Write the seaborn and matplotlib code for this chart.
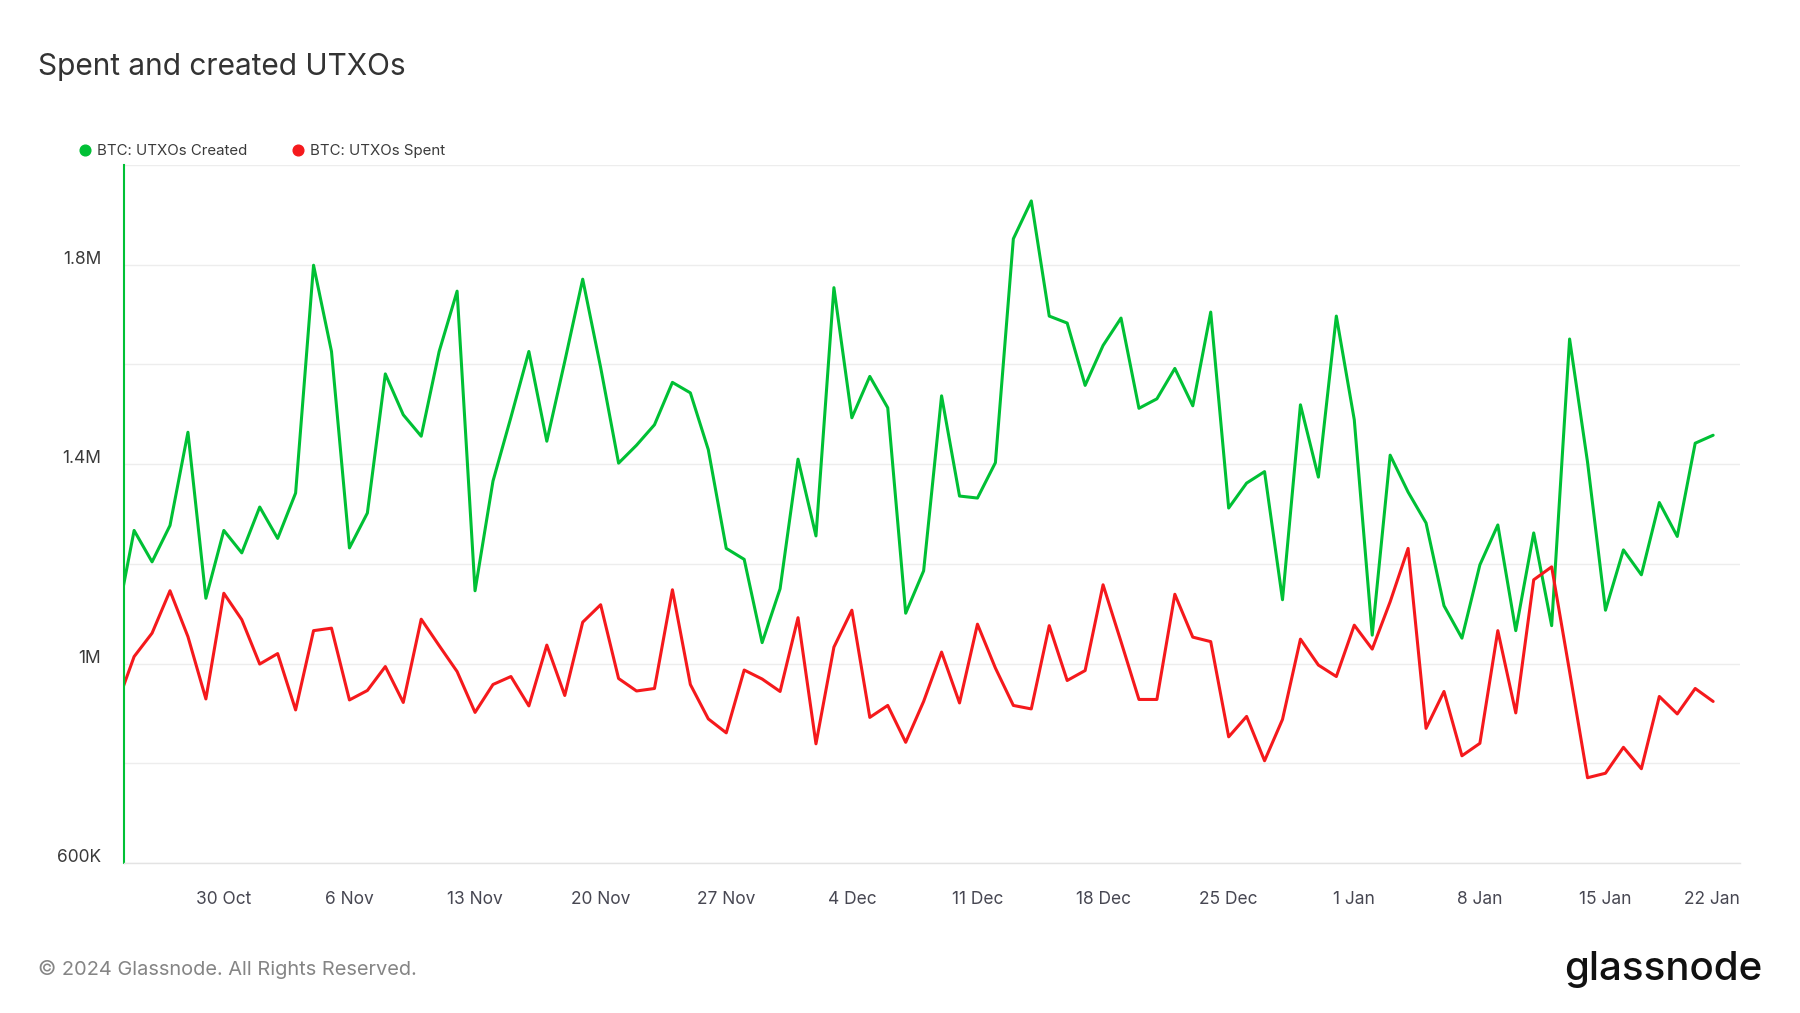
import pandas as pd
import numpy as np
import matplotlib
matplotlib.use("Agg")
import matplotlib.pyplot as plt
import matplotlib.dates as mdates
import matplotlib.transforms as mtransforms
from matplotlib.lines import Line2D
import seaborn as sns

# Daily values (thousands), 24 Oct 2023 .. 21 Jan 2024
dates = pd.date_range("2023-10-24", "2024-01-21", freq="D")

created_k = [
    1080, 1267, 1204, 1277, 1464, 1131, 1267, 1222,
    1314, 1251, 1342, 1799, 1626, 1232, 1302, 1581, 1499, 1456,
    1626, 1747, 1146, 1366, 1494, 1626, 1446, 1606, 1771, 1594,
    1402, 1438, 1479, 1564, 1543, 1429, 1231, 1209, 1042, 1150,
    1410, 1256, 1754, 1493, 1576, 1513, 1101, 1186, 1537, 1336,
    1332, 1403, 1852, 1928, 1697, 1683, 1558, 1638, 1693, 1512,
    1531, 1592, 1517, 1705, 1312, 1362, 1385, 1128, 1519, 1374,
    1697,
    1489, 1057, 1418, 1344, 1282, 1116, 1051, 1198, 1278, 1066,
    1262, 1076, 1651, 1404, 1107, 1228, 1178, 1323, 1255, 1442,
    1458,
]

spent_k = [
    914, 1014, 1061, 1146, 1054, 929, 1141, 1088,
    999, 1020, 907, 1066, 1071, 927, 946, 994, 922, 1089,
    1036, 984, 902, 958, 974, 915, 1037, 936, 1083, 1118,
    970, 945, 950, 1148, 958, 889, 861, 987, 969, 944,
    1092, 839, 1033, 1107, 892, 916, 842, 924, 1023, 921,
    1079, 991, 916, 909, 1076, 966, 986, 1158, 1044, 928,
    928, 1139, 1053, 1044, 853, 894, 805, 888, 1049, 997,
    974,
    1077, 1029, 1124, 1231, 870, 944, 815, 840, 1066, 901,
    1168, 1194, 984, 771, 780, 832, 789, 934, 899, 950,
    924,
]

series_names = ["BTC: UTXOs Created", "BTC: UTXOs Spent"]
green = "#00c035"
red = "#f5191c"

df = pd.concat([
    pd.DataFrame({"date": dates, "value": np.array(created_k) * 1000, "series": series_names[0]}),
    pd.DataFrame({"date": dates, "value": np.array(spent_k) * 1000, "series": series_names[1]}),
])

sns.set_style("white")
plt.rcParams["font.family"] = ["Inter", "DejaVu Sans"]

fig = plt.figure(figsize=(18, 10.13), dpi=100)
ax = fig.add_axes([0.0689, 0.1481, 0.8978, 0.6890])

sns.lineplot(data=df, x="date", y="value", hue="series",
             palette={series_names[0]: green, series_names[1]: red},
             linewidth=2.2, legend=False, ax=ax)

# axes ranges
ax.set_xlim(pd.Timestamp("2023-10-24 10:30"), pd.Timestamp("2024-01-22 12:00"))
ax.set_ylim(600000, 2000000)

# y axis: grid every 200K, labels every 400K
def fmt_val(v):
    if v >= 1e6:
        s = f"{v / 1e6:.1f}".rstrip("0").rstrip(".")
        return s + "M"
    return f"{int(v / 1000)}K"

yt = np.arange(600000, 2000001, 200000)
ax.set_yticks(yt)
ax.set_yticklabels([fmt_val(v) if (v - 600000) % 400000 == 0 else "" for v in yt])
ax.tick_params(axis="y", length=0, pad=16.5, labelsize=12.5, labelcolor="#3a3a3a")
ydown = mtransforms.ScaledTranslation(0, -3 / 100, fig.dpi_scale_trans)
for lab in ax.get_yticklabels():
    lab.set_verticalalignment("bottom")
    lab.set_transform(lab.get_transform() + ydown)
ax.grid(axis="y", color="#ededed", linewidth=1)
ax.grid(axis="x", visible=False)

# x axis: weekly ticks
ax.xaxis.set_major_locator(mdates.WeekdayLocator(byweekday=mdates.MO))
ax.xaxis.set_major_formatter(mdates.DateFormatter("%-d %b"))
ax.tick_params(axis="x", length=11, width=1, color="#e3e3e3", pad=9,
               labelsize=12.5, labelcolor="#474752")
fig.canvas.draw()
xlabels = ax.get_xticklabels()
if xlabels:
    last = xlabels[-1]
    last.set_horizontalalignment("right")
    last.set_transform(last.get_transform() +
                       mtransforms.ScaledTranslation(9 / 100, 0, fig.dpi_scale_trans))

for side in ["top", "right"]:
    ax.spines[side].set_visible(False)
ax.spines["bottom"].set_color("#e3e3e3")
ax.spines["bottom"].set_linewidth(1)
ax.spines["left"].set_color(green)
ax.spines["left"].set_linewidth(1.5)
ax.set_xlabel("")
ax.set_ylabel("")

# legend
handles = [Line2D([], [], marker="o", linestyle="", color=green, markersize=7.7),
           Line2D([], [], marker="o", linestyle="", color=red, markersize=7.7)]
fig.legend(handles, series_names, loc="center left", bbox_to_anchor=(0.0348, 0.851),
           ncol=2, frameon=False, fontsize=10.8, handletextpad=0.2,
           columnspacing=2.75, handlelength=1.2, labelcolor="#3a3a3a")

# title, footer, logo
fig.text(0.021, 0.934, "Spent and created UTXOs", fontsize=21.5, color="#333333",
         ha="left", va="center")
fig.text(0.021, 0.043, "\u00a9 2024 Glassnode. All Rights Reserved.", fontsize=14.4,
         color="#858585", ha="left", va="center")
fig.text(0.979, 0.043, "glassnode", fontsize=29, color="#111111", fontweight="medium",
         ha="right", va="center")

fig.savefig("out.png", dpi=100)
